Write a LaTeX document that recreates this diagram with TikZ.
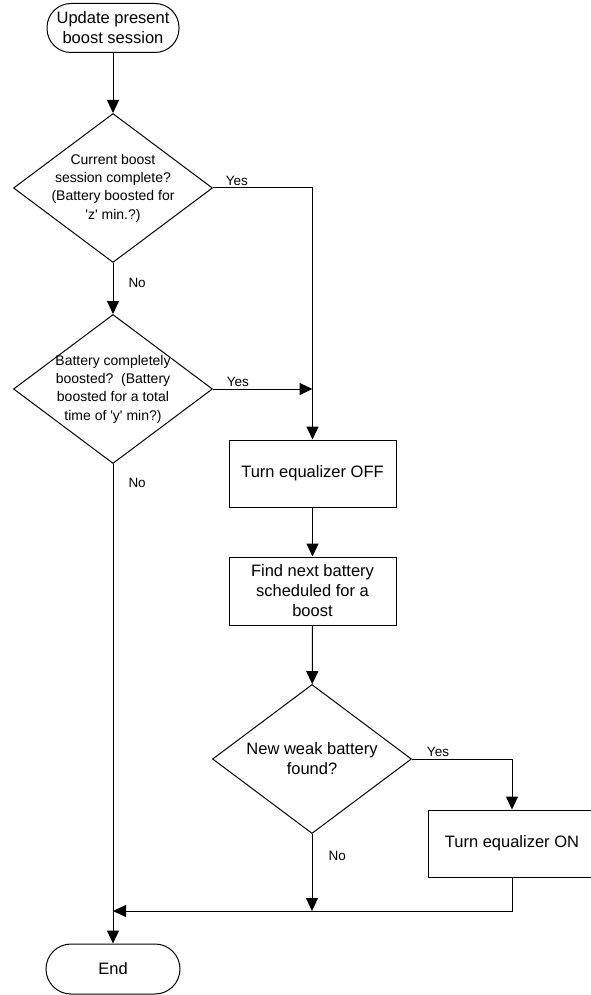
\documentclass[tikz,border=0pt]{standalone}
\usepackage{fontspec}
\setmainfont{Liberation Sans}
\usetikzlibrary{arrows.meta}
\usetikzlibrary{shapes.geometric}

\begin{document}
\begin{tikzpicture}[x=1pt,y=-1pt,line width=1pt,
    >={Triangle[length=13pt,width=12pt]},
    term/.style={draw,rectangle,rounded corners=24pt,minimum width=132pt,minimum height=49pt,align=center,font=\fontsize{16.5}{20}\selectfont},
    proc/.style={draw,rectangle,minimum width=167pt,minimum height=67pt,align=center,font=\fontsize{16.5}{20}\selectfont},
    decision/.style={draw,diamond,minimum width=199pt,minimum height=149pt,inner sep=0pt},
    dtext/.style={align=center,inner sep=0pt,font=\fontsize{14}{18.3}\selectfont},
    lbl/.style={font=\fontsize{13.5}{16}\selectfont,inner sep=2pt}]
      \useasboundingbox (0,0) rectangle (591,995);
      \node[term] (start) at (113,28) {Update present\\boost session};
      \node[decision,label={[dtext]center:{Current boost\\session complete?\\(Battery boosted for\\\textquotesingle z\textquotesingle\ min.?)}}] (cur) at (113,188) {};
      \node[decision,label={[dtext]center:{Battery completely\\boosted?\ \ (Battery\\boosted for a total\\time of \textquotesingle y\textquotesingle\ min?)}}] (full) at (113,389) {};
      \node[proc] (eqoff) at (312.5,473.5) {Turn equalizer OFF};
      \node[proc,minimum height=68pt] (find) at (312.5,591) {Find next battery\\scheduled for a\\boost};
      \node[decision,label={[dtext,font=\fontsize{16.5}{20}\selectfont]center:{New weak battery\\found?}}] (weak) at (312,759) {};
      \node[proc] (eqon) at (512,843.5) {Turn equalizer ON};
      \node[term,minimum width=134pt,minimum height=50pt,rounded corners=25pt] (end) at (113,969) {End};
      \coordinate (jy) at (eqoff.north |- full.east);
      \coordinate (jn) at (312,911);
      \coordinate (jl) at (full.south |- jn);
      \path[->] (start) edge (cur);
      \path[->] (cur) edge node[lbl,right=13pt,pos=.4] {No} (full);
      \draw[->] (cur.east) -| node[lbl,above,pos=.12] {Yes} (eqoff.north);
      \draw[->] (full.east) -- node[lbl,above,pos=.25] {Yes} (jy);
      \path[->] (full) edge node[lbl,right=13pt,pos=.04] {No} (end);
      \path[->] (eqoff) edge (find);
      \path[->] (find) edge (weak);
      \draw[->] (weak.east) -| node[lbl,above,pos=.13] {Yes} (eqon.north);
      \draw[->] (weak.south) -- node[lbl,right=14pt,pos=.28] {No} (jn);
      \draw[->] (eqon.south) |- (jl);
    \end{tikzpicture}
\end{document}
